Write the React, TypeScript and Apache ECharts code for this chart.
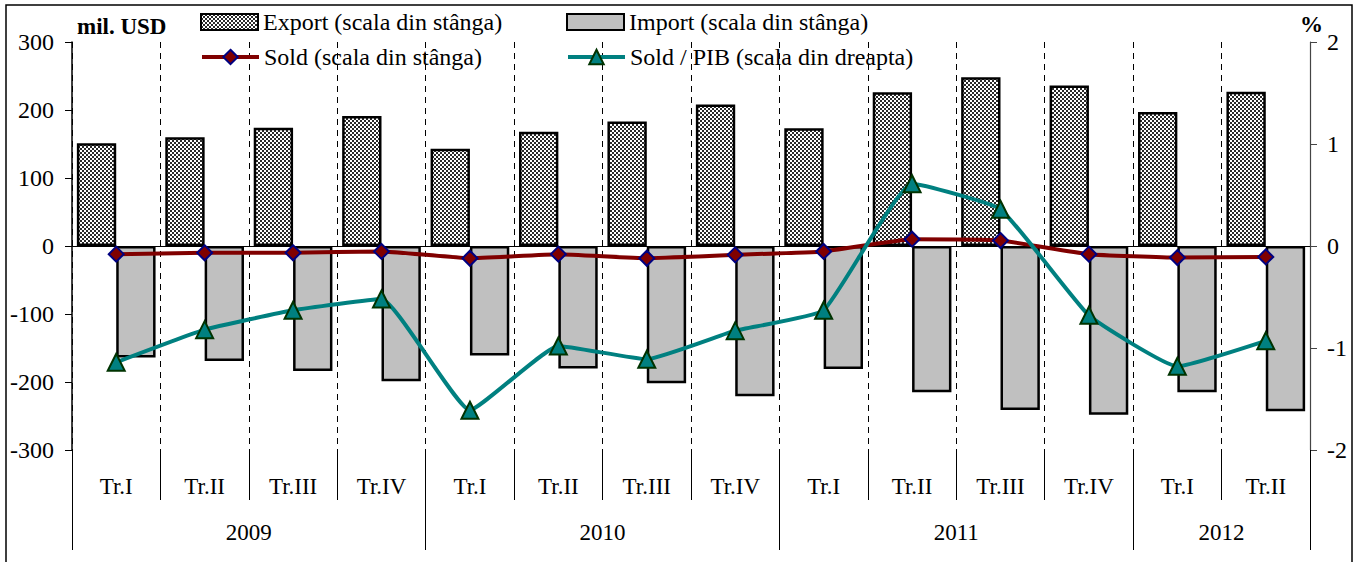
import React, { useEffect, useRef } from "react";
import * as echarts from "echarts";

const quarters = ["Tr.I", "Tr.II", "Tr.III", "Tr.IV", "Tr.I", "Tr.II", "Tr.III", "Tr.IV", "Tr.I", "Tr.II", "Tr.III", "Tr.IV", "Tr.I", "Tr.II"];
const years = ["2009", "2010", "2011", "2012"];
const quartersPerYear = [4, 4, 4, 2];
const exportValues = [151, 160, 174, 191, 143, 168, 183, 208, 173, 226, 248, 236, 197, 227];
const importValues = [-164, -169, -184, -199, -161, -180, -202, -221, -181, -215, -241, -248, -215, -243];
const soldValues = [-12, -10, -10, -8, -18, -12, -18, -13, -8, 10, 8, -12, -17, -16];
const soldPibValues = [-1.14, -0.82, -0.63, -0.52, -1.61, -0.98, -1.11, -0.83, -0.63, 0.61, 0.36, -0.68, -1.18, -0.93];
const leftAxis = { min: -300, max: 300, interval: 100 };
const rightAxis = { min: -2, max: 2, interval: 1 };
const seriesNames = ["Export (scala din stânga)", "Import (scala din stânga)", "Sold (scala din stânga)", "Sold / PIB (scala din dreapta)"];

const FONT = "Liberation Serif";

export default function App() {
  const ref = useRef<HTMLDivElement>(null);
  useEffect(() => {
    if (!ref.current) return;
    const chart = echarts.init(ref.current, undefined, { renderer: "svg" });

    const tile = document.createElement("canvas");
    tile.width = 4;
    tile.height = 4;
    const ctx = tile.getContext("2d")!;
    ctx.fillStyle = "#ffffff";
    ctx.fillRect(0, 0, 4, 4);
    ctx.fillStyle = "#2a2a2a";
    ctx.fillRect(0, 0, 2, 2);
    ctx.fillRect(2, 2, 2, 2);
    const pattern: any = { image: tile, repeat: "repeat", imageWidth: 4, imageHeight: 4 };

    const boundaries: number[] = [0];
    const centers: number[] = [];
    quartersPerYear.forEach((q) => {
      const start = boundaries[boundaries.length - 1];
      centers.push(start + q / 2);
      boundaries.push(start + q);
    });

    const txt = { fontFamily: FONT, fontSize: 23, color: "#000" };

    const legendBase = (name: string, left: number, top: number, icon?: string) => ({
      data: [icon ? { name, icon } : { name }],
      left,
      top,
      padding: 0,
      itemWidth: 57,
      itemHeight: icon ? 16 : 18,
      itemGap: 0,
      textStyle: { fontFamily: FONT, fontSize: 24, color: "#000", lineHeight: 26 },
      selectedMode: false,
      lineStyle: icon ? undefined : { width: 4 },
    });

    chart.setOption({
      animation: false,
      backgroundColor: "#fff",
      grid: { left: 72, right: 47, top: 42, bottom: 112, containLabel: false },
      legend: [
        legendBase(seriesNames[0], 200, 9, "rect"),
        legendBase(seriesNames[1], 566, 9, "rect"),
        legendBase(seriesNames[2], 200, 44),
        legendBase(seriesNames[3], 566, 44),
      ],
      xAxis: [
        {
          type: "category",
          data: quarters,
          boundaryGap: true,
          axisLine: { show: true, onZero: true, lineStyle: { color: "#000", width: 1 } },
          axisTick: { show: false },
          axisLabel: { show: false },
          splitLine: { show: true, interval: 0, lineStyle: { color: "#000", width: 1, type: [6, 5] } },
        },
        {
          type: "category",
          data: quarters,
          position: "bottom",
          boundaryGap: true,
          axisLine: { show: false, onZero: false },
          axisTick: { show: true, interval: 0, length: 50, lineStyle: { color: "#000", width: 1 } },
          axisLabel: { interval: 0, margin: 25, ...txt, lineHeight: 23 },
          splitLine: { show: false },
        },
        {
          type: "value",
          min: 0,
          max: quarters.length,
          position: "bottom",
          axisLine: { show: false, onZero: false },
          axisTick: { show: true, customValues: boundaries, length: 100, lineStyle: { color: "#000", width: 1 } },
          axisLabel: {
            customValues: centers,
            formatter: (v: number) => years[centers.indexOf(v)] ?? "",
            margin: 71,
            ...txt,
            lineHeight: 23,
          },
          splitLine: { show: false },
        },
      ],
      yAxis: [
        {
          type: "value",
          position: "left",
          ...leftAxis,
          axisLine: { show: true, lineStyle: { color: "#000", width: 1.5 } },
          axisTick: { show: true, length: 7, lineStyle: { color: "#000" } },
          axisLabel: { margin: 18, ...txt, fontSize: 24 },
          splitLine: { show: false },
        },
        {
          type: "value",
          position: "right",
          ...rightAxis,
          axisLine: { show: true, lineStyle: { color: "#444", width: 1.2 } },
          axisTick: { show: true, length: 7, lineStyle: { color: "#444" } },
          axisLabel: { margin: 17, ...txt, fontSize: 24 },
          splitLine: { show: false },
        },
      ],
      series: [
        {
          name: seriesNames[0],
          type: "bar",
          data: exportValues,
          xAxisIndex: 0,
          yAxisIndex: 0,
          barGap: "0%",
          barCategoryGap: "11%",
          itemStyle: { color: pattern, borderColor: "#000", borderWidth: 2.5 },
        },
        {
          name: seriesNames[1],
          type: "bar",
          data: importValues,
          xAxisIndex: 0,
          yAxisIndex: 0,
          barGap: "0%",
          barCategoryGap: "11%",
          itemStyle: { color: "#c0c0c0", borderColor: "#000", borderWidth: 2.5 },
        },
        {
          name: seriesNames[2],
          type: "line",
          data: soldValues,
          xAxisIndex: 0,
          yAxisIndex: 0,
          smooth: 0.12,
          symbol: "diamond",
          symbolSize: 15,
          lineStyle: { color: "#800000", width: 4 },
          itemStyle: { color: "#800000", borderColor: "#000080", borderWidth: 2 },
          z: 5,
        },
        {
          name: seriesNames[3],
          type: "line",
          data: soldPibValues,
          xAxisIndex: 0,
          yAxisIndex: 1,
          smooth: 0.12,
          symbol: "triangle",
          symbolSize: 17,
          lineStyle: { color: "#008080", width: 4 },
          itemStyle: { color: "#008080", borderColor: "#003300", borderWidth: 2 },
          z: 6,
        },
      ],
      graphic: [
        {
          type: "rect",
          shape: { x: 6, y: 5, width: 1346, height: 575 },
          style: { fill: "none", stroke: "#000", lineWidth: 1.5 },
          silent: true,
          z: -1,
        },
        {
          type: "text",
          left: 77,
          top: 15,
          style: { text: "mil. USD", font: `bold 23px "Liberation Serif"`, fill: "#000" },
        },
        {
          type: "text",
          left: 1300,
          top: 13,
          style: { text: "%", font: `bold 23px "Liberation Serif"`, fill: "#000" },
        },
      ],
    });
    return () => chart.dispose();
  }, []);
  return <div ref={ref} style={{ position: "fixed", left: 0, top: 0, width: 1357, height: 562 }} />;
}
